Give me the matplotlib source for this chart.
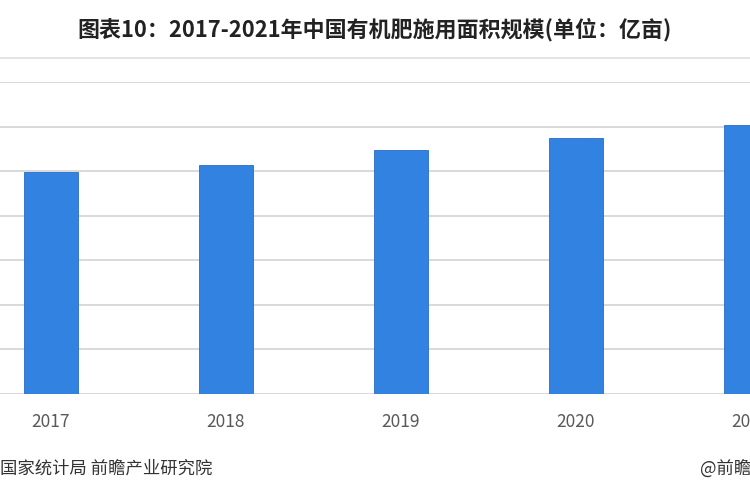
import numpy as np
import matplotlib.pyplot as plt
from matplotlib.lines import Line2D

plt.rcParams['font.family'] = ['Noto Sans CJK SC', 'DejaVu Sans']

# Data (unit: 亿亩); y labels are cropped away
years = ['2017', '2018', '2019', '2020', '2021']
area = [4.98, 5.13, 5.47, 5.74, 6.03]
y_ticks = [0, 1, 2, 3, 4, 5, 6, 7]

fig = plt.figure(figsize=(7.5, 5), dpi=100)

# the reference is a crop, so the axes run past both figure edges
ax = fig.add_axes([-0.049, 0.212, 1.167, 0.624])
x = np.arange(len(years))
ax.bar(x, area, width=0.31, color='#3282e2', edgecolor='#2a6cc4', linewidth=0.6, zorder=3)

ax.set_xlim(-0.5, 4.5)
ax.set_ylim(0, 7)
ax.set_yticks(y_ticks)
ax.set_yticklabels([])
ax.set_xticks(x)
ax.set_xticklabels(years, fontsize=12.5, color='#595959')
ax.tick_params(axis='both', length=0, pad=14)
ax.grid(axis='y', color='#d9d9d9', linewidth=1.4, zorder=0)
for s in ax.spines.values():
    s.set_visible(False)

# separator under the title
fig.add_artist(Line2D([0, 1], [0.884, 0.884], color='#e3e3e3', linewidth=1.4))

fig.text(0.5, 0.94, '图表10：2017-2021年中国有机肥施用面积规模(单位：亿亩)',
         ha='center', va='center', fontsize=15.8, fontweight='bold', color='#222222')
fig.text(0.0, 0.063, '国家统计局 前瞻产业研究院', ha='left', va='center',
         fontsize=12.5, color='#333333')
fig.text(0.933, 0.063, '@前瞻经济学人', ha='left', va='center',
         fontsize=12.5, color='#333333')

fig.savefig('out.png', dpi=100)
